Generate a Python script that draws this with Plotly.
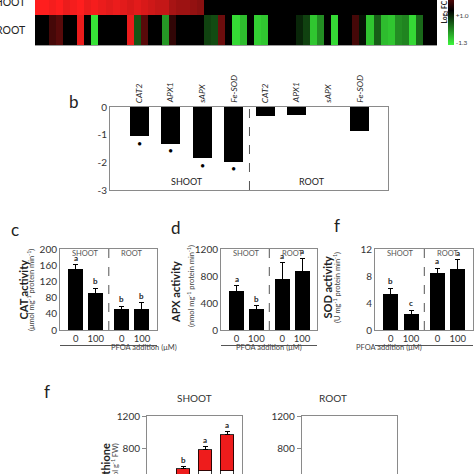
import plotly.graph_objects as go

W, H = 474, 474
FONT = "Lato"
TXT = "#222222"
GRID = "#8a8a8a"

# ---------------- data ----------------
# (a) heat map of log2 fold changes, 57 genes
shoot_log2fc = [1.3, 1.3, 1.25, 1.3, 1.2, 1.25, 1.3, 1.2, 1.25, 1.2, 1.15, 1.2,
                1.15, 1.1, 1.15, 1.1, 1.05, 1.0, 1.0, 0.85, 0.8, 0.8, 0.75, 0.7,
                0, 0, 0, 0, 0, 0, 0, 0, 0, 0, 0, 0, 0, 0, 0, 0, 0,
                0, 0, 0, 0, 0, 0, 0, 0, 0, 0, 0, 0, 0, 0, 0, 0]
root_log2fc = [0, 0, 0.35, 0.45, 0, 0, 1.2, 0, -1.2, 0, 0, 0, 0, 1.2, -0.45, 0.45,
               0, 0, -0.8, 0.25, 0, 0, 0, 0, -0.35, -0.4, 0.55, 0, -1.15, -1.0, 0,
               -1.1, -1.05, 0, 0, 0, 0, -0.2, -0.35, -1.05, -0.75, 0, -1.15, 0, 0,
               0.35, -0.1, -1.05, -0.5, -1.0, -1.05, -0.75, -0.7, -1.15, -0.55, 0, 0]
heat_rows = ["ROOT", "SHOOT"]
cbar_tickvals = [-0.19, -1.21]
cbar_ticktext = ["+1.0", "-1.3"]

# (b) qPCR
genes = ["CAT2", "APX1", "sAPX", "Fe-SOD"]
qpcr_shoot = [-1.05, -1.33, -1.85, -1.97]
qpcr_root = [-0.31, -0.30, 0.0, -0.88]
qpcr_shoot_sig = ["*", "*", "*", "*"]
qpcr_root_sig = ["", "", "", ""]
qpcr_tickvals = [0, -1, -2, -3]
qpcr_ticktext = ["0", "-1", "-2", "-3"]

# (c, d, f) enzyme activities: SHOOT 0, SHOOT 100, ROOT 0, ROOT 100
pfoa_doses = ["0", "100", "0", "100"]
tissues = ["SHOOT", "ROOT"]
cat_act = [150, 91, 51, 53]
cat_err = [11, 12, 8, 14]
cat_letters = ["a", "b", "b", "b"]
apx_act = [585, 310, 754, 867]
apx_err = [74, 50, 245, 195]
apx_letters = ["a", "b", "a", "a"]
sod_act = [5.35, 2.4, 8.5, 9.0]
sod_err = [0.85, 0.5, 0.65, 1.4]
sod_letters = ["b", "c", "a", "a"]

# (f) glutathione (total, reduced part)
gsh_shoot_total = [430, 545, 780, 965]
gsh_shoot_reduced = [380, 440, 520, 525]
gsh_shoot_err = [25, 28, 40, 40]
gsh_shoot_letters = ["c", "b", "a", "a"]
gsh_root_total = [400, 410, 420, 430]
gsh_root_reduced = [300, 310, 320, 330]
gsh_root_err = [20, 20, 20, 20]


def fx(px):
    return px / W


def fy(py):
    return 1 - py / H


annotations = []
shapes = []


def ann(text, x, y, size, color=TXT, bold=False, **kw):
    annotations.append(dict(
        text=("<b>%s</b>" % text) if bold else text,
        x=fx(x), y=fy(y), xref="paper", yref="paper", showarrow=False,
        font=dict(family=FONT, size=size, color=color), **kw))


fig = go.Figure()
layout = dict(width=W, height=H, margin=dict(l=0, r=0, t=0, b=0, autoexpand=False),
              paper_bgcolor="white", plot_bgcolor="white", showlegend=False,
              barmode="stack", font=dict(family=FONT, color=TXT))

# ---------------- (a) heat map ----------------
fig.add_trace(go.Heatmap(
    z=[root_log2fc, shoot_log2fc], x=list(range(len(root_log2fc))), y=[0, 1],
    zmin=-1.3, zmax=1.3,
    colorscale=[[0, "#3cf53c"], [0.5, "#000000"], [1, "#ff1e1e"]],
    xaxis="x", yaxis="y", hoverinfo="skip",
    colorbar=dict(x=fx(448), xanchor="left", xref="paper", xpad=0,
                  y=fy(45), yanchor="bottom", yref="paper", ypad=0,
                  len=69, lenmode="pixels", thickness=6, thicknessmode="pixels",
                  outlinewidth=0, tickvals=cbar_tickvals, ticktext=cbar_ticktext,
                  ticks="", tickfont=dict(family=FONT, size=6.5, color="#444"))))
layout["xaxis"] = dict(domain=[fx(35), fx(437)], range=[-0.5, len(root_log2fc) - 0.5],
                       showline=True, linecolor="#9a9a9a", linewidth=1,
                       showticklabels=False, ticks="", showgrid=False, zeroline=False)
layout["yaxis"] = dict(domain=[fy(45), 1], range=[-0.5, 1.0], visible=False)
ann(heat_rows[1], 28, 2, 10.5, xanchor="right", yanchor="middle")
ann(heat_rows[0], 28, 30, 10.5, xanchor="right", yanchor="middle")
ann("Log<sub>2</sub> FC", 444.5, 12, 6.5, bold=True, textangle=-90,
    xanchor="center", yanchor="middle")

# ---------------- (b) qPCR ----------------
xb = list(range(len(genes) * 2))
fig.add_trace(go.Bar(x=xb, y=qpcr_shoot + qpcr_root, width=0.615,
                     marker=dict(color="black", line=dict(width=0)),
                     xaxis="x2", yaxis="y2", hoverinfo="skip"))
layout["xaxis2"] = dict(domain=[fx(110), fx(388)], range=[-0.93, 7.9], anchor="y2",
                        showline=True, mirror=True, linecolor=GRID, linewidth=1,
                        showticklabels=False, ticks="", showgrid=False, zeroline=False)
layout["yaxis2"] = dict(domain=[fy(190), fy(107)], range=[-3, 0], anchor="x2",
                        showline=True, mirror=True, linecolor=GRID, linewidth=1,
                        tickvals=qpcr_tickvals, ticktext=qpcr_ticktext, ticks="",
                        tickfont=dict(family=FONT, size=10, color="#333"),
                        showgrid=False, zeroline=False)
shapes.append(dict(type="line", xref="x2", yref="y2 domain", x0=3.5, x1=3.5, y0=0, y1=1,
                   line=dict(color="#555", width=1, dash="dash")))
for i, g in enumerate(genes + genes):
    annotations.append(dict(text="<i>%s</i>" % g, x=i, xref="x2", y=fy(105), yref="paper",
                            textangle=-90, xanchor="center", yanchor="bottom",
                            showarrow=False, font=dict(family=FONT, size=8.5, color=TXT)))
for i, (v, s) in enumerate(zip(qpcr_shoot + qpcr_root, qpcr_shoot_sig + qpcr_root_sig)):
    if s:
        annotations.append(dict(text="\u2022", x=i, xref="x2", y=v, yref="y2",
                                yanchor="middle", yshift=-7, showarrow=False,
                                font=dict(family=FONT, size=9, color="black")))
for t, xc in zip(tissues, [1.5, 5.5]):
    annotations.append(dict(text=t, x=xc, xref="x2", y=0.1, yref="y2 domain",
                            showarrow=False, yanchor="middle",
                            font=dict(family=FONT, size=9, color=TXT)))
ann("b", 67, 89, 17)

# ---------------- (c, d, f) activities ----------------
xpos = [g * 2.3 + t for g in range(2) for t in range(2)]
panels = [
    dict(n=3, box=(60, 157), vals=cat_act, err=cat_err, let=cat_letters, ymax=200, dt=40,
         title="CAT activity", unit="(\u03bcmol mg<sup>-1</sup> protein min<sup>-1</sup>)",
         tx=14, ty=290, ux=24, uy=290, lab="c", lxy=(9, 229)),
    dict(n=4, box=(221, 317), vals=apx_act, err=apx_err, let=apx_letters, ymax=1200, dt=400,
         title="APX activity", unit="(nmol mg<sup>-1</sup> protein min<sup>-1</sup>)",
         tx=175, ty=292, ux=191, uy=286, lab="d", lxy=(176, 227)),
    dict(n=5, box=(375, 473), vals=sod_act, err=sod_err, let=sod_letters, ymax=12, dt=4,
         title="SOD activity", unit="(U mg<sup>-1</sup> protein min<sup>-1</sup>)",
         tx=335, ty=287, ux=344, uy=288, lab="f", lxy=(342, 226)),
]
for p in panels:
    n = p["n"]
    xa, ya = "x%d" % n, "y%d" % n
    fig.add_trace(go.Bar(x=xpos, y=p["vals"], width=0.75,
                         marker=dict(color="black", line=dict(width=0)),
                         error_y=dict(type="data", array=p["err"], color="black",
                                      thickness=1, width=2.5),
                         xaxis=xa, yaxis=ya, hoverinfo="skip"))
    x0, x1 = p["box"]
    layout["xaxis%d" % n] = dict(domain=[fx(x0), fx(x1)], range=[-0.78, 4.05], anchor=ya,
                                 showline=True, mirror=True, linecolor=GRID, linewidth=1,
                                 tickvals=xpos, ticktext=pfoa_doses, ticks="",
                                 tickfont=dict(family=FONT, size=9.5, color="#333"),
                                 showgrid=False, zeroline=False)
    layout["yaxis%d" % n] = dict(domain=[fy(330), fy(249)], range=[0, p["ymax"]], anchor=xa,
                                 showline=True, mirror=True, linecolor=GRID, linewidth=1,
                                 dtick=p["dt"], tick0=0, ticks="",
                                 tickfont=dict(family=FONT, size=10, color="#333"),
                                 showgrid=False, zeroline=False)
    shapes.append(dict(type="line", xref=xa, yref=ya + " domain", x0=1.65, x1=1.65, y0=0, y1=1,
                       line=dict(color="#555", width=1, dash="dash")))
    for xv, v, e, l in zip(xpos, p["vals"], p["err"], p["let"]):
        annotations.append(dict(text="<b>%s</b>" % l, x=xv, xref=xa, y=v + e, yref=ya,
                                yanchor="bottom", yshift=0, showarrow=False,
                                font=dict(family=FONT, size=8, color=TXT)))
    for t, xc in zip(tissues, [0.5, 2.8]):
        annotations.append(dict(text=t, x=xc, xref=xa, y=0.95, yref=ya + " domain",
                                yanchor="middle", showarrow=False,
                                font=dict(family=FONT, size=7.5, color="#555")))
    shapes.append(dict(type="line", xref=xa + " domain", yref="paper", x0=0, x1=1,
                       y0=fy(345.5), y1=fy(345.5), line=dict(color="#555", width=1)))
    ann("PFOA addition (\u03bcM)", (x0 + x1) / 2, 354, 7.5, color="#444")
    ann(p["title"], p["tx"], p["ty"], 11, bold=True, textangle=-90)
    ann(p["unit"], p["ux"], p["uy"], 7.5, color="#444", textangle=-90)
    ann(p["lab"], p["lxy"][0], p["lxy"][1], 17)

# ---------------- (f) glutathione ----------------
xg = list(range(len(gsh_shoot_total)))
gsh_sets = [
    dict(n=6, box=(147, 242), total=gsh_shoot_total, red=gsh_shoot_reduced,
         err=gsh_shoot_err, let=gsh_shoot_letters, title=tissues[0]),
    dict(n=7, box=(301.7, 397), total=gsh_root_total, red=gsh_root_reduced,
         err=gsh_root_err, let=["", "", "", ""], title=tissues[1]),
]
for p in gsh_sets:
    n = p["n"]
    xa, ya = "x%d" % n, "y%d" % n
    oxid = [t - r for t, r in zip(p["total"], p["red"])]
    fig.add_trace(go.Bar(x=xg, y=p["red"], width=0.6,
                         marker=dict(color="white", line=dict(color="black", width=0.8)),
                         xaxis=xa, yaxis=ya, hoverinfo="skip"))
    fig.add_trace(go.Bar(x=xg, y=oxid, width=0.6,
                         marker=dict(color="#ee1c1c", line=dict(color="black", width=0.8)),
                         error_y=dict(type="data", symmetric=False, array=p["err"],
                                      arrayminus=[0] * len(xg), color="black",
                                      thickness=1, width=2.5),
                         xaxis=xa, yaxis=ya, hoverinfo="skip"))
    x0, x1 = p["box"]
    layout["xaxis%d" % n] = dict(domain=[fx(x0), fx(x1)], range=[-0.64, 3.68], anchor=ya,
                                 side="top", showline=True, mirror=False, linecolor=GRID,
                                 linewidth=1, showticklabels=False, ticks="",
                                 showgrid=False, zeroline=False)
    layout["yaxis%d" % n] = dict(domain=[0, fy(416)], range=[482, 1200], anchor=xa,
                                 showline=True, mirror=True, linecolor=GRID, linewidth=1,
                                 dtick=400, tick0=0, ticks="outside", ticklen=4, tickcolor=GRID,
                                 tickfont=dict(family=FONT, size=10, color="#333"),
                                 showgrid=False, zeroline=False)
    for xv, v, e, l in zip(xg, p["total"], p["err"], p["let"]):
        if l:
            annotations.append(dict(text="<b>%s</b>" % l, x=xv, xref=xa, y=v + e, yref=ya,
                                    yanchor="bottom", showarrow=False,
                                    font=dict(family=FONT, size=8, color=TXT)))
    ann(p["title"], (x0 + x1) / 2, 405.5, 10, color="#333")
ann("Glutathione", 97, 441.7, 11, bold=True, textangle=-90, yanchor="top")
ann("(nmol g<sup>-1</sup> FW)", 108, 441.7, 7.5, color="#444", textangle=-90, yanchor="top")
ann("f", 42, 404, 17)

layout["annotations"] = annotations
layout["shapes"] = shapes
fig.update_layout(**layout)

fig.write_html("out.html", config={"displayModeBar": False},
               post_script="document.body.style.margin='0';document.body.style.overflow='hidden';")
